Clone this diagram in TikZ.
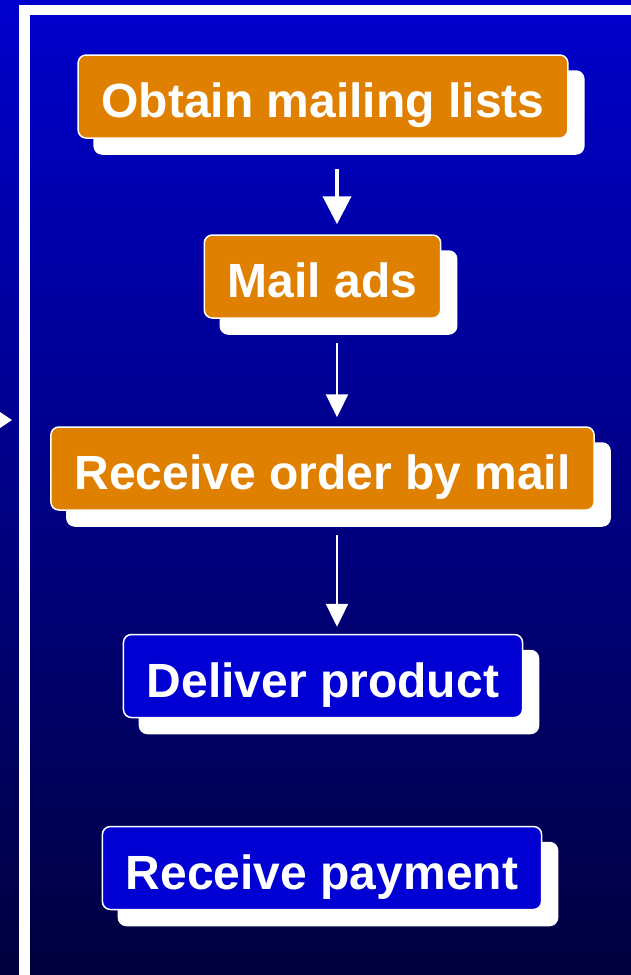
\documentclass[tikz,border=0pt]{standalone}
\usepackage{fontspec}
\setmainfont{Liberation Sans}
\usepackage{tikz}
\usetikzlibrary{arrows.meta, shadows, calc}

\definecolor{bgtop}{RGB}{0,0,205}
\definecolor{bgbottom}{RGB}{0,0,62}
\definecolor{steporange}{RGB}{224,128,0}
\definecolor{stepblue}{RGB}{0,0,210}

\tikzset{
  stepbox/.style={rounded corners=8pt, draw=white, line width=1.5pt, text=white,
    minimum height=83pt, inner xsep=23.5pt, inner ysep=0pt, text height=42pt, text depth=0pt,
    font=\fontsize{48}{57}\selectfont\bfseries,
    general shadow={fill=white, draw=white, shadow xshift=16pt, shadow yshift=-16pt}},
  thickarr/.style={white, line width=4pt, -{Triangle[width=28pt,length=28pt]}},
  thinarr/.style={white, line width=2.3pt, -{Triangle[width=22pt,length=23pt]}}
}

\begin{document}
\begin{tikzpicture}[x=1pt,y=1pt,yscale=-1,xscale=1]
\useasboundingbox (0,0) rectangle (631,975);

% Background
\shade[top color=bgtop, bottom color=bgbottom] (0,0) rectangle (631,975);
% Frame
\draw[white, line width=10.5pt] (24.5,980) -- (24.5,10) -- (640,10);
% Incoming arrow tip
\fill[white] (0,412) -- (12,420) -- (0,428) -- cycle;

% Step nodes
\node[stepbox, fill=steporange] (obtain) at (323,96.5) {Obtain mailing lists};
\node[stepbox, fill=steporange] (mailads) at (322.5,276.5) {Mail ads};
\node[stepbox, fill=steporange] (order) at (322.5,468.5) {Receive order by mail};
\node[stepbox, fill=stepblue] (deliver) at (323,676) {Deliver product};
\node[stepbox, fill=stepblue] (payment) at (322,868) {Receive payment};

% Arrows
\draw[thickarr] ($(obtain.south)+(14,30)$) -- ($(mailads.north)+(14.5,-10)$);
\draw[thinarr] ($(mailads.south)+(14.5,24)$) -- ($(order.north)+(14.5,-9)$);
\draw[thinarr] ($(order.south)+(14.5,24)$) -- ($(deliver.north)+(14,-7)$);

\end{tikzpicture}
\end{document}
